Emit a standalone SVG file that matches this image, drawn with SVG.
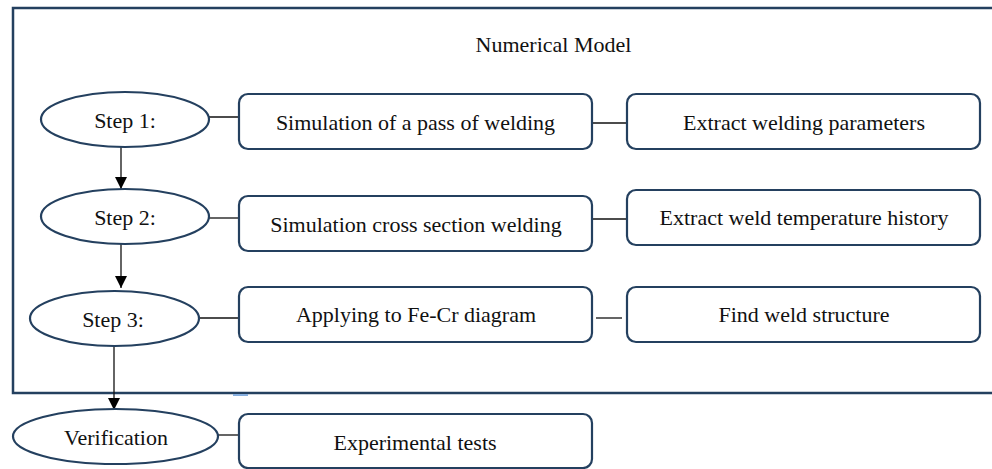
<svg xmlns="http://www.w3.org/2000/svg" width="992" height="469" viewBox="0 0 992 469">
<defs>
<marker id="arr" markerWidth="12" markerHeight="12" refX="12" refY="6" orient="auto" markerUnits="userSpaceOnUse">
<path d="M0,0 L12,6 L0,12 Z" fill="#000"/>
</marker>
<style>
.shape{fill:#fff;stroke:#24405f;stroke-width:2.2}
.lbl{font-family:"Liberation Serif","Times New Roman",serif;font-size:22px;fill:#111;text-anchor:middle}
.con{stroke:#111;stroke-width:1.3;fill:none}
</style>
</defs>
<rect width="992" height="469" fill="#fff"/>
<g id="frame">
<rect x="13" y="8" width="990" height="385" fill="none" stroke="#24405f" stroke-width="2.5"/>
<rect x="233" y="394" width="15" height="2" fill="#86aede"/>
<text class="lbl" x="553.5" y="52">Numerical Model</text>
</g>
<g id="connectors">
<line class="con" x1="198" y1="117" x2="239" y2="117"/>
<line class="con" x1="592" y1="123" x2="627" y2="123"/>
<line class="con" x1="209" y1="218" x2="239" y2="218"/>
<line class="con" x1="592" y1="219" x2="627" y2="219"/>
<line class="con" x1="199" y1="318" x2="242" y2="318"/>
<line class="con" x1="596" y1="318" x2="622" y2="318"/>
<line class="con" x1="218" y1="435" x2="239" y2="435"/>
<line class="con" x1="121" y1="147" x2="121" y2="189" marker-end="url(#arr)"/>
<line class="con" x1="121" y1="244" x2="121" y2="288" marker-end="url(#arr)"/>
<line class="con" x1="114" y1="346" x2="114" y2="410" marker-end="url(#arr)"/>
</g>
<g id="step1">
<ellipse class="shape" cx="125" cy="119.5" rx="84" ry="27.5"/>
<text class="lbl" x="125" y="128">Step 1:</text>
</g>
<g id="sim-pass">
<rect class="shape" x="239" y="94" width="353" height="55" rx="9"/>
<text class="lbl" x="415.5" y="130">Simulation of a pass of welding</text>
</g>
<g id="extract-params">
<rect class="shape" x="627" y="94" width="353" height="55" rx="9"/>
<text class="lbl" x="804" y="130">Extract welding parameters</text>
</g>
<g id="step2">
<ellipse class="shape" cx="125" cy="216.5" rx="84" ry="27.5"/>
<text class="lbl" x="125" y="225">Step 2:</text>
</g>
<g id="sim-cross">
<rect class="shape" x="239" y="196" width="353" height="55" rx="9"/>
<text class="lbl" x="416" y="232">Simulation cross section welding</text>
</g>
<g id="extract-temp">
<rect class="shape" x="627" y="190" width="353" height="55" rx="9"/>
<text class="lbl" x="804" y="225">Extract weld temperature history</text>
</g>
<g id="step3">
<ellipse class="shape" cx="114.5" cy="318.5" rx="84.5" ry="27.5"/>
<text class="lbl" x="113" y="327">Step 3:</text>
</g>
<g id="fe-cr">
<rect class="shape" x="239" y="287" width="353" height="55" rx="9"/>
<text class="lbl" x="416" y="322">Applying to Fe-Cr diagram</text>
</g>
<g id="weld-structure">
<rect class="shape" x="627" y="287" width="353" height="55" rx="9"/>
<text class="lbl" x="804" y="322">Find weld structure</text>
</g>
<g id="verification">
<ellipse class="shape" cx="115.5" cy="436.5" rx="102.5" ry="27.5"/>
<text class="lbl" x="116" y="445">Verification</text>
</g>
<g id="experimental">
<rect class="shape" x="239" y="414" width="353" height="54" rx="9"/>
<text class="lbl" x="415" y="450">Experimental tests</text>
</g>
</svg>
